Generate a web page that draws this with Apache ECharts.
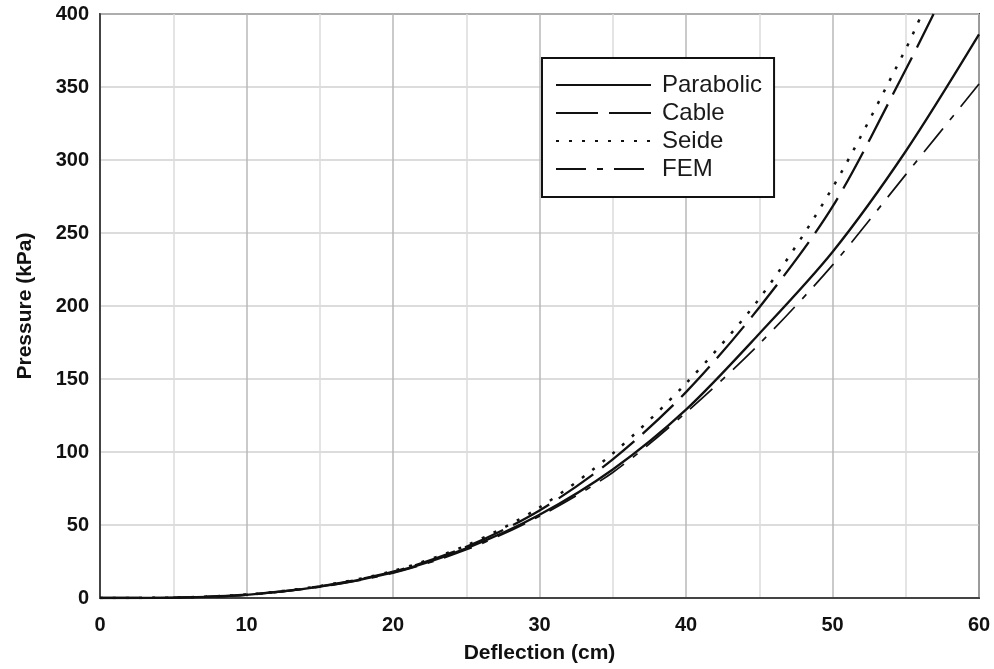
<!DOCTYPE html>
<html>
<head>
<meta charset="utf-8">
<script src="https://cdn.jsdelivr.net/npm/echarts@6/dist/echarts.min.js"></script>
<style>
html,body{margin:0;padding:0;background:#fff;}
#chart{width:994px;height:669px;}
</style>
</head>
<body>
<div id="chart"></div>
<script>
// Data
const deflection = [0, 5, 10, 15, 20, 25, 30, 35, 40, 45, 50, 55, 60];
const parabolic  = [0, 0.3, 2.2, 7.8, 17.5, 34, 57, 88, 129, 181, 237, 306, 386];
const fem        = [0, 0.3, 2.0, 7.5, 17, 33, 56, 86, 127, 174, 228, 290, 352];
const cableDeflection = [0, 5, 10, 15, 20, 25, 30, 35, 40, 45, 50, 55, 56.9];
const cable      = [0, 0.3, 2.3, 8, 18, 35, 60, 95, 141, 199, 268, 362, 400];
const seideDeflection = [0, 5, 10, 15, 20, 25, 30, 35, 40, 45, 50, 55, 56.1];
const seide      = [0, 0.3, 2.4, 8.2, 18.5, 36, 62, 99, 147, 205, 281, 376, 400];
const seriesNames = ['Parabolic', 'Cable', 'Seide', 'FEM'];
const xTitle = 'Deflection (cm)';
const yTitle = 'Pressure (kPa)';

function pairs(xs, ys){ return xs.map((x,i)=>[x, ys[i]]); }

const FONT = '"Liberation Sans", Arial, sans-serif';
const chart = echarts.init(document.getElementById('chart'), null, {renderer:'canvas'});
chart.setOption({
  animation: false,
  backgroundColor: '#fff',
  grid: {left: 100, right: 15, top: 14, bottom: 70, show: true, borderColor: '#444', borderWidth: 2, backgroundColor: 'transparent'},
  legend: {
    orient: 'vertical', left: 542, top: 58,
    data: seriesNames,
    itemWidth: 95, itemHeight: 22, itemGap: 4,
    padding: [15, 12, 16, 13],
    borderColor: '#111', borderWidth: 2,
    backgroundColor: '#fff',
    itemStyle: {opacity: 0},
    textStyle: {fontFamily: FONT, fontSize: 24, color: '#1a1a1a', lineHeight: 24, padding: [0,0,0,6]}
  },
  xAxis: {
    type: 'value', min: 0, max: 60, interval: 10,
    name: xTitle, nameLocation: 'middle', nameGap: 45,
    nameTextStyle: {fontFamily: FONT, fontSize: 21, fontWeight: 'bold', color: '#111'},
    axisLine: {show: true, lineStyle: {color: '#444', width: 2}},
    axisTick: {show: false},
    axisLabel: {fontFamily: FONT, fontSize: 20, fontWeight: 'bold', color: '#111', margin: 17},
    splitLine: {show: true, lineStyle: {color: '#b8b8b8', width: 1.5}},
    minorTick: {show: false, splitNumber: 2},
    minorSplitLine: {show: true, lineStyle: {color: '#dcdcdc', width: 1.5}}
  },
  yAxis: {
    type: 'value', min: 0, max: 400, interval: 50,
    name: yTitle, nameLocation: 'middle', nameGap: 64, nameRotate: 90,
    nameTextStyle: {fontFamily: FONT, fontSize: 21, fontWeight: 'bold', color: '#111'},
    axisLine: {show: true, lineStyle: {color: '#444', width: 2}},
    axisTick: {show: false},
    axisLabel: {fontFamily: FONT, fontSize: 20, fontWeight: 'bold', color: '#111', margin: 11},
    splitLine: {show: true, lineStyle: {color: '#d0d0d0', width: 1.5}}
  },
  series: [
    {name: 'Parabolic', type: 'line', data: pairs(deflection, parabolic), symbol: 'none', smooth: 0.3,
     lineStyle: {color: '#111', width: 2.3, type: 'solid'}, itemStyle: {color: '#111'}, z: 5},
    {name: 'Cable', type: 'line', data: pairs(cableDeflection, cable), symbol: 'none', smooth: 0.3,
     lineStyle: {color: '#111', width: 2.3, type: [42, 11]}, itemStyle: {color: '#111'}, z: 4},
    {name: 'Seide', type: 'line', data: pairs(seideDeflection, seide), symbol: 'none', smooth: 0.3,
     lineStyle: {color: '#111', width: 2.5, type: [3, 10]}, itemStyle: {color: '#111'}, z: 3},
    {name: 'FEM', type: 'line', data: pairs(deflection, fem), symbol: 'none', smooth: 0.3,
     lineStyle: {color: '#111', width: 1.7, type: [30, 11, 6, 11]}, itemStyle: {color: '#111'}, z: 2}
  ]
});
</script>
</body>
</html>
